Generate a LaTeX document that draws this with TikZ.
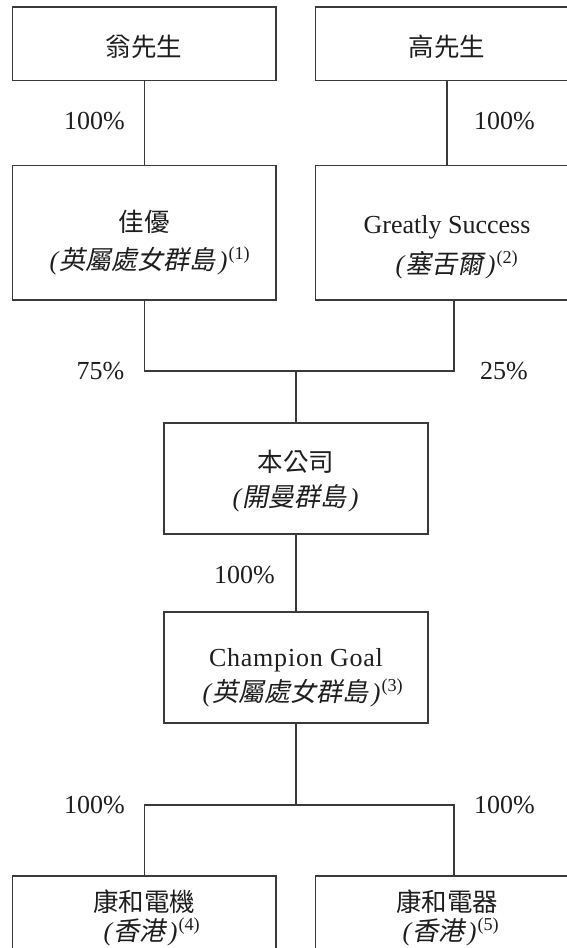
\documentclass[tikz,border=0pt]{standalone}
\usepackage{fontspec}
\setmainfont{Liberation Serif}
\newfontfamily\cjk{Noto Sans CJK TC}
\newfontfamily\cjksl[FakeSlant=0.2]{Noto Sans CJK TC}
\newfontfamily\champfont[LetterSpace=3]{Liberation Serif}
\definecolor{linec}{HTML}{3A3A3A}
\definecolor{textc}{HTML}{1E1E1E}
\newcommand{\itpar}[1]{{\itshape(}\kern1pt{\cjksl #1}\kern3.5pt{\itshape)}\kern1pt}
\newcommand{\supnote}[1]{\textsuperscript{(#1)}}
\begin{document}
\begin{tikzpicture}[x=1pt,y=-1pt,
  box/.style={draw=linec, line width=1.1pt, inner sep=0pt},
  conn/.style={draw=linec, line width=1.1pt},
  txt/.style={anchor=base, inner sep=0pt, text height=19pt, text depth=2pt, text=textc, font=\fontsize{26}{30}\selectfont},
  cjktxt/.style={anchor=base, inner sep=0pt, text height=19pt, text depth=2pt, text=textc, font=\fontsize{25.5}{30}\selectfont\cjk},
  pct/.style={anchor=base, inner sep=0pt, text=textc, font=\fontsize{26}{30}\selectfont}]
\useasboundingbox (0,0) rectangle (567,948);
\fill[white] (0,0) rectangle (567,948);
\clip (0,0) rectangle (567,948);

% boxes
\node[box, minimum width=263.3pt, minimum height=73.7pt] (b1) at (144.35,43.85) {};
\node[box, minimum width=284.7pt, minimum height=73.7pt] (b2) at (457.65,43.85) {};
\node[box, minimum width=263.3pt, minimum height=134.3pt] (b3) at (144.35,232.85) {};
\node[box, minimum width=284.7pt, minimum height=134.3pt] (b4) at (457.65,232.85) {};
\node[box, minimum width=264pt, minimum height=111pt] (b5) at (296,478.5) {};
\node[box, minimum width=264pt, minimum height=111pt] (b6) at (296,667.5) {};
\node[box, minimum width=263.3pt, minimum height=124pt] (b7) at (144.35,938) {};
\node[box, minimum width=284.7pt, minimum height=124pt] (b8) at (457.65,938) {};

% helper coordinates
\coordinate (c2) at (447,0);
\coordinate (c4) at (454,0);
\coordinate (j1) at (296,371);
\coordinate (j2) at (296,805);

% connectors
\draw[conn] (b1.south) -- (b3.north);
\draw[conn] (b2.south -| c2) -- (b4.north -| c2);
\draw[conn] (b3.south) |- (j1) -| (b4.south -| c4);
\draw[conn] (j1) -- (b5.north);
\draw[conn] (b5.south) -- (b6.north);
\draw[conn] (b6.south) -- (j2);
\draw[conn] (b7.north) |- (j2) -| (b8.north -| c4);

% box texts
\node[cjktxt] (t1) at (144,56) {翁先生};
\node[cjktxt] (t2) at (447,56) {高先生};
\node[cjktxt] (t3a) at (144,231.5) {佳優};
\node[txt] (t3b) at (150,269) {\itpar{英屬處女群島}\supnote{1}};
\node[txt] (t4a) at (447,233) {Greatly Success};
\node[txt] (t4b) at (457,273) {\itpar{塞舌爾}\supnote{2}};
\node[cjktxt] (t5a) at (296,471.5) {本公司};
\node[txt] (t5b) at (296,506) {\itpar{開曼群島}};
\node[txt, font=\fontsize{26}{30}\selectfont\champfont] (t6a) at (296,666.5) {Champion Goal};
\node[txt] (t6b) at (303,701) {\itpar{英屬處女群島}\supnote{3}};
\node[cjktxt] (t7a) at (144,911) {康和電機};
\node[txt] (t7b) at (152,940) {\itpar{香港}\supnote{4}};
\node[cjktxt] (t8a) at (447,911) {康和電器};
\node[txt] (t8b) at (451,940) {\itpar{香港}\supnote{5}};

% percentages
\node[pct] (p1) at (94.5,129) {100\%};
\node[pct] (p2) at (504.5,129) {100\%};
\node[pct] (p3) at (100.5,379) {75\%};
\node[pct] (p4) at (504,379) {25\%};
\node[pct] (p5) at (244.5,583) {100\%};
\node[pct] (p6) at (94.5,813) {100\%};
\node[pct] (p7) at (504.5,813) {100\%};
\end{tikzpicture}
\end{document}
